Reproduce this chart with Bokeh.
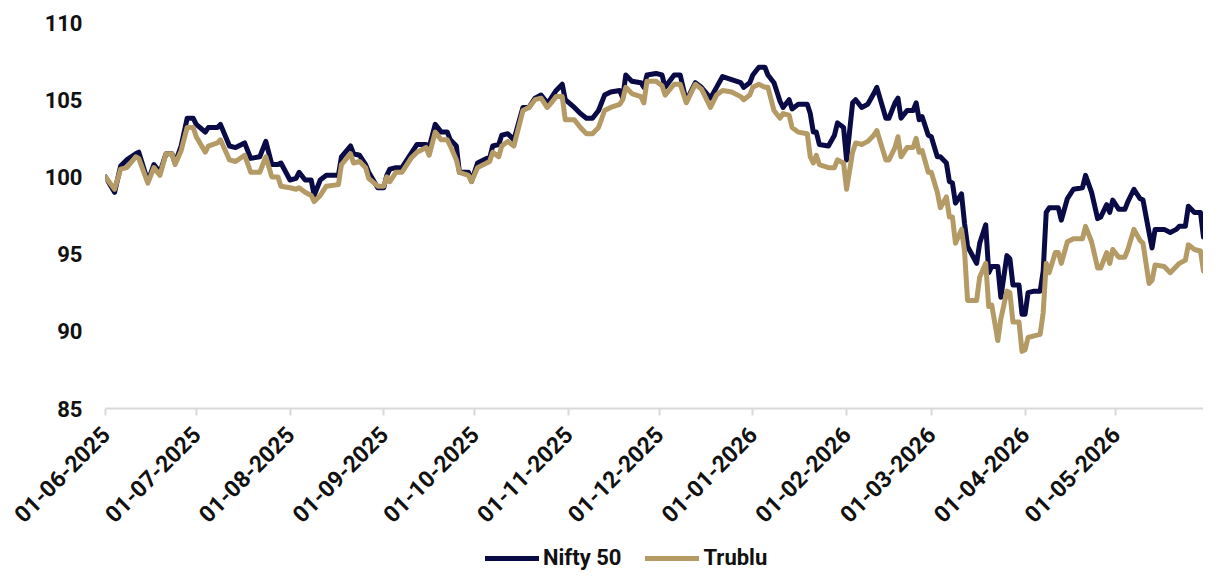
import math
import pandas as pd
from bokeh.plotting import figure
from bokeh.layouts import column
from bokeh.models import (ColumnDataSource, Range1d, FixedTicker, MonthsTicker,
                          DatetimeTickFormatter, Legend, LegendItem)
from bokeh.embed import file_html
from bokeh.resources import INLINE

dates = [
    "2025-06-01", "2025-06-04", "2025-06-06", "2025-06-08", "2025-06-11", "2025-06-12", "2025-06-15", "2025-06-17",
    "2025-06-19", "2025-06-21", "2025-06-23", "2025-06-24", "2025-06-26", "2025-06-28", "2025-06-30",
    "2025-07-01", "2025-07-04", "2025-07-05", "2025-07-08", "2025-07-09", "2025-07-12", "2025-07-14", "2025-07-17",
    "2025-07-19", "2025-07-22", "2025-07-24", "2025-07-26", "2025-07-28", "2025-07-29",
    "2025-08-01", "2025-08-03", "2025-08-04", "2025-08-06", "2025-08-08", "2025-08-09", "2025-08-11", "2025-08-13",
    "2025-08-17", "2025-08-18", "2025-08-21", "2025-08-22", "2025-08-24", "2025-08-26", "2025-08-27", "2025-08-30",
    "2025-09-01", "2025-09-02", "2025-09-03", "2025-09-05", "2025-09-07", "2025-09-10", "2025-09-12", "2025-09-15",
    "2025-09-16", "2025-09-18", "2025-09-20", "2025-09-22", "2025-09-23", "2025-09-25", "2025-09-26", "2025-09-29",
    "2025-09-30",
    "2025-10-02", "2025-10-05", "2025-10-06", "2025-10-07", "2025-10-09", "2025-10-10", "2025-10-12", "2025-10-14",
    "2025-10-17", "2025-10-19", "2025-10-21", "2025-10-23", "2025-10-25", "2025-10-26", "2025-10-28", "2025-10-30",
    "2025-10-31",
    "2025-11-03", "2025-11-05", "2025-11-07", "2025-11-09", "2025-11-11", "2025-11-13", "2025-11-15", "2025-11-18",
    "2025-11-19", "2025-11-20", "2025-11-22", "2025-11-25", "2025-11-26", "2025-11-27", "2025-11-30",
    "2025-12-02", "2025-12-03", "2025-12-06", "2025-12-08", "2025-12-10", "2025-12-13", "2025-12-15", "2025-12-18",
    "2025-12-20", "2025-12-22", "2025-12-25", "2025-12-28", "2025-12-29", "2025-12-31",
    "2026-01-01", "2026-01-03", "2026-01-05", "2026-01-06", "2026-01-08", "2026-01-10", "2026-01-11", "2026-01-13",
    "2026-01-14", "2026-01-16", "2026-01-19", "2026-01-20", "2026-01-21", "2026-01-22", "2026-01-23", "2026-01-26",
    "2026-01-28", "2026-01-29", "2026-01-31",
    "2026-02-01", "2026-02-03", "2026-02-04", "2026-02-06", "2026-02-08", "2026-02-10", "2026-02-11", "2026-02-14",
    "2026-02-15", "2026-02-17", "2026-02-18", "2026-02-19", "2026-02-21", "2026-02-23", "2026-02-24", "2026-02-25",
    "2026-02-26", "2026-02-28",
    "2026-03-01", "2026-03-03", "2026-03-04", "2026-03-06", "2026-03-07", "2026-03-08", "2026-03-09", "2026-03-11",
    "2026-03-12", "2026-03-13", "2026-03-16", "2026-03-17", "2026-03-19", "2026-03-20", "2026-03-21", "2026-03-23",
    "2026-03-24", "2026-03-26", "2026-03-27", "2026-03-28", "2026-03-30", "2026-03-31",
    "2026-04-01", "2026-04-02", "2026-04-04", "2026-04-06", "2026-04-07", "2026-04-08", "2026-04-09", "2026-04-11",
    "2026-04-12", "2026-04-13", "2026-04-15", "2026-04-17", "2026-04-20", "2026-04-21", "2026-04-23", "2026-04-25",
    "2026-04-26", "2026-04-28", "2026-04-29", "2026-04-30",
    "2026-05-02", "2026-05-04", "2026-05-05", "2026-05-07", "2026-05-09", "2026-05-10", "2026-05-12", "2026-05-13",
    "2026-05-14", "2026-05-17", "2026-05-19", "2026-05-21", "2026-05-22", "2026-05-24", "2026-05-25", "2026-05-27",
    "2026-05-29", "2026-05-30",
]

nifty = [
    100.0, 99.0, 100.7, 101.1, 101.5, 101.6, 99.7, 100.8, 100.3, 101.5, 101.5, 100.9, 102.0, 103.8, 103.8,
    103.4, 102.9, 103.2, 103.2, 103.4, 102.0, 101.9, 102.2, 101.2, 101.3, 102.3, 100.8, 100.8, 100.9,
    99.8, 99.9, 100.3, 99.8, 99.8, 98.8, 99.8, 100.1, 100.1, 101.3, 102.0, 101.5, 101.4, 100.8, 100.3, 99.3,
    99.3, 100.1, 100.5, 100.6, 100.6, 101.5, 102.1, 102.1, 101.9, 103.4, 102.9, 102.9, 102.4, 102.0, 100.3, 100.3,
    99.7,
    100.9, 101.2, 101.2, 102.0, 102.1, 102.7, 102.8, 102.4, 104.5, 104.5, 105.1, 105.3, 104.8, 105.0, 105.6, 106.0,
    105.0,
    104.5, 104.1, 103.8, 103.8, 104.3, 105.3, 105.5, 105.6, 105.1, 106.6, 106.2, 106.1, 105.8, 106.6, 106.7,
    106.6, 105.8, 106.6, 106.6, 104.9, 106.1, 105.8, 105.1, 105.8, 106.5, 106.3, 106.1, 105.8, 106.1,
    106.6, 107.1, 107.1, 106.6, 106.1, 104.9, 104.5, 105.0, 104.4, 104.7, 104.7, 104.1, 102.9, 102.9, 102.1, 102.0,
    102.7, 103.5, 103.2,
    101.1, 104.8, 105.0, 104.5, 104.7, 105.4, 105.8, 103.8, 103.8, 104.8, 105.1, 103.8, 104.3, 104.3, 104.8, 103.7,
    103.9, 102.7,
    102.6, 101.3, 101.3, 100.9, 99.7, 99.6, 98.3, 98.9, 97.0, 95.5, 94.4, 95.7, 96.9, 93.8, 94.2, 94.2,
    92.2, 94.9, 94.7, 93.0, 93.0, 91.1,
    91.1, 92.5, 92.6, 92.6, 93.9, 97.7, 98.0, 98.0, 98.0, 97.2, 98.6, 99.2, 99.3, 100.1, 99.0, 97.3,
    97.4, 98.2, 97.7, 98.5,
    97.9, 97.9, 98.4, 99.2, 98.6, 98.5, 96.4, 95.4, 96.6, 96.6, 96.4, 96.6, 96.8, 96.8, 98.1, 97.7,
    97.7, 96.1,
]

trublu = [
    100.0, 99.2, 100.5, 100.6, 101.3, 101.2, 99.6, 100.6, 100.1, 101.5, 101.5, 100.8, 101.7, 103.2, 103.2,
    102.6, 101.6, 102.0, 102.2, 102.4, 101.1, 101.0, 101.4, 100.3, 100.3, 101.3, 100.0, 100.0, 99.4,
    99.3, 99.2, 99.3, 99.0, 98.8, 98.4, 98.8, 99.4, 99.5, 100.8, 101.5, 100.9, 101.0, 100.6, 99.9, 99.4,
    99.4, 100.0, 99.7, 100.3, 100.3, 101.2, 101.6, 101.9, 101.4, 102.9, 102.4, 102.4, 102.0, 101.1, 100.3, 100.1,
    99.7,
    100.6, 100.9, 101.0, 101.6, 101.3, 102.0, 102.3, 102.0, 104.3, 104.5, 105.0, 105.1, 104.5, 104.7, 105.2, 105.2,
    103.7,
    103.7, 103.2, 102.8, 102.8, 103.2, 104.3, 104.5, 104.7, 105.0, 105.8, 105.4, 105.2, 104.8, 106.2, 106.2,
    105.9, 105.3, 106.0, 106.0, 104.8, 106.0, 105.7, 104.5, 105.3, 105.6, 105.5, 105.2, 105.0, 105.3,
    105.8, 106.0, 105.8, 105.8, 104.3, 103.8, 104.1, 104.0, 103.2, 102.9, 102.8, 101.3, 100.9, 101.4, 100.8, 100.6,
    100.6, 101.1, 100.9,
    99.2, 101.6, 102.2, 102.1, 102.3, 102.7, 103.0, 101.1, 101.1, 101.9, 102.6, 101.3, 101.9, 101.9, 102.5, 101.6,
    101.7, 100.3,
    100.3, 99.0, 98.0, 98.7, 97.4, 97.4, 95.7, 96.6, 95.2, 92.0, 92.0, 93.5, 94.4, 91.6, 91.7, 89.4,
    90.8, 92.6, 92.5, 90.6, 90.6, 88.7,
    88.8, 89.6, 89.7, 89.8, 91.2, 94.4, 93.8, 95.1, 95.1, 94.4, 95.8, 96.0, 96.0, 96.8, 95.8, 94.1,
    94.1, 95.1, 94.4, 95.3,
    94.8, 94.8, 95.3, 96.6, 95.9, 95.7, 93.1, 93.3, 94.3, 94.2, 93.8, 94.2, 94.4, 94.6, 95.6, 95.3,
    95.2, 93.9,
]

y_ticks = [85, 90, 95, 100, 105, 110]
series_names = ["Nifty 50", "Trublu"]

NAVY = "#0a0a46"
TAN = "#b49a64"
FONT = "Roboto"
LINE_W = 5

src = ColumnDataSource(dict(date=pd.to_datetime(dates), nifty=nifty, trublu=trublu))

p = figure(width=1203, height=540, x_axis_type="datetime",
           x_range=Range1d(pd.Timestamp("2025-06-01"), pd.Timestamp("2026-05-30")),
           y_range=Range1d(85, 110),
           output_backend="svg", toolbar_location=None,
           min_border_left=105, min_border_right=0, min_border_top=22, min_border_bottom=132)
p.outline_line_color = None
p.xgrid.visible = False
p.ygrid.visible = False
p.background_fill_color = "white"
p.border_fill_color = "white"

p.line(x="date", y="nifty", source=src, line_color=NAVY, line_width=LINE_W,
       line_join="round", line_cap="round")
p.line(x="date", y="trublu", source=src, line_color=TAN, line_width=LINE_W,
       line_join="round", line_cap="round")

# y axis
ya = p.yaxis[0]
ya.ticker = FixedTicker(ticks=y_ticks)
ya.axis_line_color = None
ya.major_tick_line_color = None
ya.minor_tick_line_color = None
ya.major_tick_out = 0
ya.major_label_standoff = 23
ya.major_label_text_font = FONT
ya.major_label_text_font_style = "bold"
ya.major_label_text_font_size = "22px"
ya.major_label_text_color = "#111111"

# x axis
xa = p.xaxis[0]
xa.ticker = MonthsTicker(months=list(range(12)))
xa.formatter = DatetimeTickFormatter(months="%d-%m-%Y", days="%d-%m-%Y", years="%d-%m-%Y")
xa.axis_line_color = "#d9d9d9"
xa.axis_line_width = 2
xa.major_tick_line_color = "#d9d9d9"
xa.major_tick_line_width = 2
xa.major_tick_out = 7
xa.major_tick_in = 0
xa.minor_tick_line_color = None
xa.major_label_orientation = math.pi / 4
xa.major_label_standoff = 15
xa.major_label_text_font = FONT
xa.major_label_text_font_style = "bold"
xa.major_label_text_font_size = "23px"
xa.major_label_text_color = "#111111"

# legend strip below the chart (its frame is aligned with the chart frame)
lg = figure(width=1203, height=31, x_range=Range1d(0, 1), y_range=Range1d(0, 1),
            output_backend="svg", toolbar_location=None,
            x_axis_location=None, y_axis_location=None,
            min_border_left=0, min_border_right=0, min_border_top=0, min_border_bottom=0)
lg.outline_line_color = None
lg.xgrid.visible = False
lg.ygrid.visible = False
# same series; their dates lie far outside this strip's 0..1 range, so only the legend swatches show
lr1 = lg.line(x="date", y="nifty", source=src, line_color=NAVY, line_width=LINE_W, line_cap="round")
lr2 = lg.line(x="date", y="trublu", source=src, line_color=TAN, line_width=LINE_W, line_cap="round")
legend = Legend(items=[LegendItem(label=series_names[0], renderers=[lr1]),
                       LegendItem(label=series_names[1], renderers=[lr2])],
                orientation="horizontal", location=(380, 1),
                glyph_width=54, glyph_height=24, label_height=24, label_standoff=4,
                spacing=24, padding=0, margin=0,
                border_line_color=None, background_fill_alpha=0,
                label_text_font=FONT, label_text_font_style="bold",
                label_text_font_size="22px", label_text_color="#111111")
lg.add_layout(legend, "center")

layout = column(p, lg, spacing=0)
open("out.html", "w").write(file_html(layout, INLINE))
